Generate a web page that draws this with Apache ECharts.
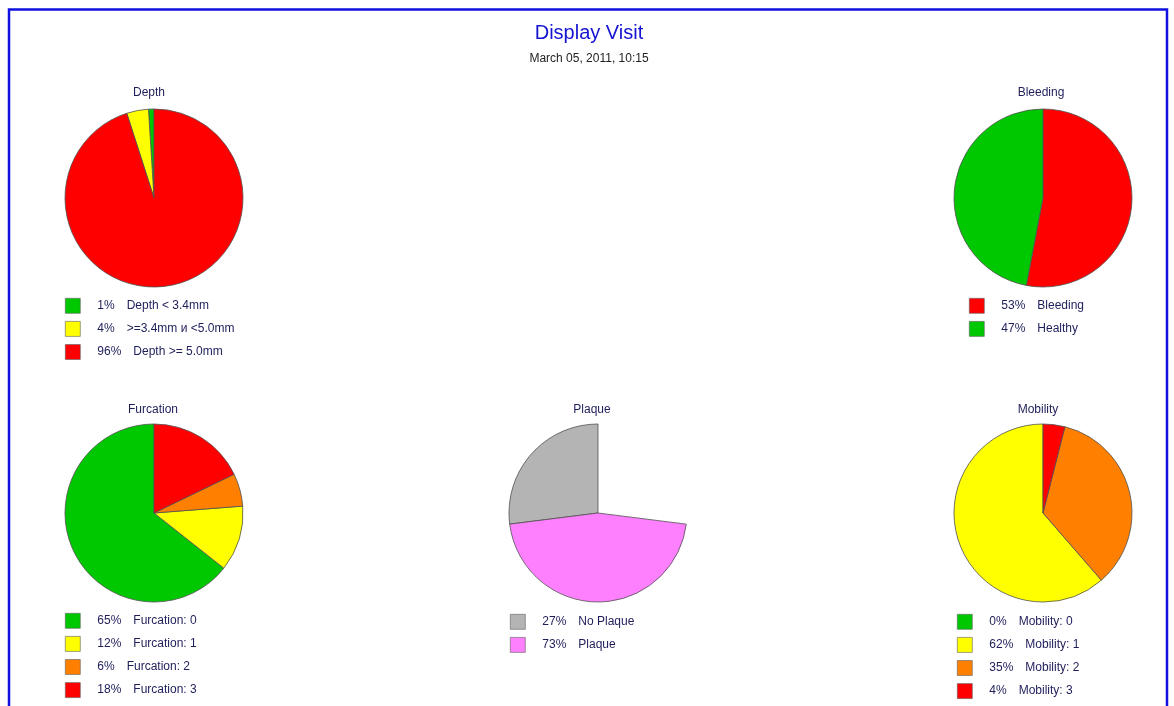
<!DOCTYPE html>
<html>
<head>
<meta charset="utf-8">
<script src="https://cdn.jsdelivr.net/npm/echarts@6/dist/echarts.min.js"></script>
<style>
html,body{margin:0;padding:0;background:#fff;}
#chart{width:1174px;height:706px;}
</style>
</head>
<body>
<div id="chart"></div>
<script>
// ---- data ----
const depthNames = ['Depth < 3.4mm', '>=3.4mm и <5.0mm', 'Depth >= 5.0mm'];
const depthValues = [1, 4, 96];
const bleedingNames = ['Bleeding', 'Healthy'];
const bleedingValues = [53, 47];
const furcationNames = ['Furcation: 0', 'Furcation: 1', 'Furcation: 2', 'Furcation: 3'];
const furcationValues = [65, 12, 6, 18];
const plaqueNames = ['No Plaque', 'Plaque'];
const plaqueLegendPct = [27, 73];
const plaqueDrawnValues = [27, 46];   // slice sizes as drawn in the picture
const plaqueEmptyValue = 27;          // undrawn part of the plaque disc
const mobilityNames = ['Mobility: 0', 'Mobility: 1', 'Mobility: 2', 'Mobility: 3'];
const mobilityValues = [0, 62, 35, 4];

// ---- styles ----
const GREEN = '#00c800', YELLOW = '#ffff00', RED = '#ff0000', ORANGE = '#ff8000', GREY = '#b4b4b4', PINK = '#ff80ff';
const depthColors = [GREEN, YELLOW, RED];
const bleedingColors = [RED, GREEN];
const furcationColors = [GREEN, YELLOW, ORANGE, RED];
const plaqueColors = [GREY, PINK];
const mobilityColors = [GREEN, YELLOW, ORANGE, RED];

const TXT = '#1e1e5a';
const FONT = 'Liberation Sans, Arial, sans-serif';
const R = 89;

const pctMap = {};
function addPct(names, vals){ names.forEach((n,i)=>{ pctMap[n] = vals[i]; }); }
addPct(depthNames, depthValues);
addPct(bleedingNames, bleedingValues);
addPct(furcationNames, furcationValues);
addPct(plaqueNames, plaqueLegendPct);
addPct(mobilityNames, mobilityValues);

function items(names, vals, colors){
  return names.map((n,i)=>({name:n, value:vals[i], itemStyle:{color:colors[i]}}));
}

function pie(id, center, data, clockwise){
  return {
    type:'pie', name:id, center:center, radius:[0,R], clockwise:clockwise, startAngle:90,
    label:{show:false}, labelLine:{show:false}, silent:true,
    emphasis:{disabled:true}, animation:false,
    itemStyle:{borderColor:'#505050', borderWidth:0.8},
    data:data
  };
}

function legend(names, left, top){
  return {
    data:names, left:left, top:top, orient:'vertical', icon:'rect', padding:0,
    itemWidth:15, itemHeight:15, itemGap:7.5, selectedMode:false,
    itemStyle:{borderColor:'#606060', borderWidth:0.6},
    formatter: n => '{p|' + pctMap[n] + '%}{n|' + n + '}',
    textStyle:{
      color:TXT, fontFamily:FONT, fontSize:12, lineHeight:15,
      rich:{
        p:{color:TXT, fontFamily:FONT, fontSize:12, lineHeight:15, padding:[0,0,0,12]},
        n:{color:TXT, fontFamily:FONT, fontSize:12, lineHeight:15, padding:[0,0,0,12]}
      }
    }
  };
}

function ptitle(text, x, y){
  return {text:text, left:x, top:y, textAlign:'center', padding:0,
    textStyle:{color:TXT, fontFamily:FONT, fontSize:12, fontWeight:'normal'}};
}

const plaqueData = items(plaqueNames, plaqueDrawnValues, plaqueColors);
plaqueData.push({name:'', value:plaqueEmptyValue, itemStyle:{color:'rgba(0,0,0,0)', borderColor:'rgba(0,0,0,0)', borderWidth:0}});

const chart = echarts.init(document.getElementById('chart'));
chart.setOption({
  backgroundColor:'#fff',
  animation:false,
  title:[
    {text:'Display Visit', left:589, top:23, textAlign:'center', padding:0,
      textStyle:{color:'#1414d2', fontFamily:FONT, fontSize:20, fontWeight:'normal'}},
    {text:'March 05, 2011, 10:15', left:589, top:53, textAlign:'center', padding:0,
      textStyle:{color:'#222', fontFamily:FONT, fontSize:12, fontWeight:'normal'}},
    ptitle('Depth', 149, 87),
    ptitle('Bleeding', 1041, 87),
    ptitle('Furcation', 153, 404),
    ptitle('Plaque', 592, 404),
    ptitle('Mobility', 1038, 404)
  ],
  legend:[
    legend(depthNames, 65, 298),
    legend(bleedingNames, 969, 298),
    legend(furcationNames, 65, 613),
    legend(plaqueNames, 510, 614),
    legend(mobilityNames, 957, 614)
  ],
  graphic:[
    {type:'rect', silent:true, z:100,
      shape:{x:9, y:9.5, width:1158, height:720},
      style:{fill:'none', stroke:'#1010e0', lineWidth:2.5}}
  ],
  series:[
    pie('pie-depth', [154,198], items(depthNames, depthValues, depthColors), false),
    pie('pie-bleeding', [1043,198], items(bleedingNames, bleedingValues, bleedingColors), true),
    pie('pie-furcation', [154,513], items(furcationNames, furcationValues, furcationColors), false),
    pie('pie-plaque', [598,513], plaqueData, false),
    pie('pie-mobility', [1043,513], items(mobilityNames, mobilityValues, mobilityColors), false)
  ]
});
</script>
</body>
</html>
